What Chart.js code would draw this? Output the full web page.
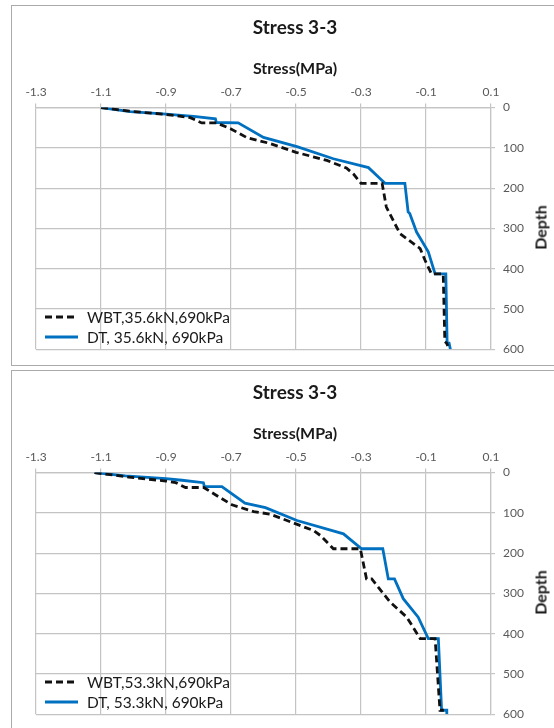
<!DOCTYPE html>
<html>
<head>
<meta charset="utf-8">
<script src="https://cdn.jsdelivr.net/npm/chart.js@4"></script>
<style>
  html, body { margin: 0; padding: 0; background: #fff; }
  body { width: 554px; height: 728px; overflow: hidden; position: relative; font-family: Lato, "Open Sans", sans-serif; }
  .frame { position: absolute; left: 11px; width: 560px; height: 359px; border: 1px solid #ababab; background: #fff; }
  .frame canvas { position: absolute; left: 0; top: 0; }
  .legend { position: absolute; left: 33px; font-size: 15.5px; color: #1a1a1a; line-height: 20px; }
  .legend div { display: flex; align-items: center; height: 20px; }
  .legend svg { margin-right: 9px; }
  .ytitle { position: absolute; width: 80px; text-align: center; font-weight: bold; font-size: 16px; color: #1a1a1a; transform: rotate(-90deg); }
</style>
</head>
<body>
<div class="frame" style="top:5px">
  <canvas id="chartTop" width="542" height="359"></canvas>
  <div class="legend" style="top:301px">
    <div><svg width="33" height="6"><line x1="0" y1="3" x2="33" y2="3" stroke="#111" stroke-width="3" stroke-dasharray="7 4"/></svg><span id="legWbtTop"></span></div>
    <div><svg width="33" height="6"><line x1="0" y1="3" x2="33" y2="3" stroke="#0070c0" stroke-width="3"/></svg><span id="legDtTop"></span></div>
  </div>
  <div class="ytitle" style="left:488px; top:212px">Depth</div>
</div>
<div class="frame" style="top:370px">
  <canvas id="chartBottom" width="542" height="359"></canvas>
  <div class="legend" style="top:301px">
    <div><svg width="33" height="6"><line x1="0" y1="3" x2="33" y2="3" stroke="#111" stroke-width="3" stroke-dasharray="7 4"/></svg><span id="legWbtBottom"></span></div>
    <div><svg width="33" height="6"><line x1="0" y1="3" x2="33" y2="3" stroke="#0070c0" stroke-width="3"/></svg><span id="legDtBottom"></span></div>
  </div>
  <div class="ytitle" style="left:488px; top:212px">Depth</div>
</div>
<script>
// Stress profiles.
const chartTitle = 'Stress 3-3';
const xTitle = 'Stress(MPa)';
const stressMin = -1.3;
const stressMax = 0.1;
const stressStep = 0.2;
const depthMin = 0;
const depthMax = 600;
const depthStep = 100;

// Top chart: 35.6kN, 690kPa
const labelsTop = ['WBT,35.6kN,690kPa', 'DT, 35.6kN, 690kPa'];
const wbtTopStress = [-1.10, -1.01, -0.90, -0.825, -0.79, -0.745, -0.70, -0.65, -0.58, -0.50, -0.405, -0.345, -0.323, -0.30, -0.235, -0.222, -0.18, -0.118, -0.103, -0.083, -0.047, -0.042, -0.036, -0.033];
const wbtTopDepth = [0, 9, 17, 25, 38, 38, 53, 75, 89, 111, 131, 150, 165, 188, 188, 247, 313, 350, 379, 413, 413, 581, 585, 592];
const dtTopStress = [-1.10, -1.01, -0.90, -0.815, -0.748, -0.745, -0.678, -0.60, -0.497, -0.385, -0.277, -0.24, -0.226, -0.165, -0.155, -0.15, -0.129, -0.093, -0.072, -0.039, -0.035, -0.029, -0.025];
const dtTopDepth = [0, 10, 16, 22, 28, 37, 38, 74, 97, 127, 149, 177, 188, 188, 259, 263, 309, 358, 413, 413, 585, 585, 600];

// Bottom chart: 53.3kN, 690kPa
const labelsBottom = ['WBT,53.3kN,690kPa', 'DT, 53.3kN, 690kPa'];
const wbtBottomStress = [-1.12, -1.015, -0.90, -0.87, -0.84, -0.784, -0.738, -0.697, -0.63, -0.58, -0.446, -0.425, -0.385, -0.302, -0.283, -0.267, -0.211, -0.159, -0.118, -0.072, -0.057, -0.045];
const wbtBottomDepth = [0, 11, 21, 25, 37, 37, 60, 80, 97, 103, 144, 156, 189, 189, 264, 264, 321, 359, 412, 412, 590, 590];
const dtBottomStress = [-1.12, -1.025, -0.90, -0.851, -0.785, -0.782, -0.728, -0.657, -0.594, -0.497, -0.354, -0.298, -0.233, -0.216, -0.197, -0.17, -0.124, -0.093, -0.062, -0.052, -0.036, -0.036];
const dtBottomDepth = [0, 8, 15, 19, 25, 35, 35, 76, 87, 119, 152, 189, 189, 264, 264, 313, 359, 412, 412, 590, 590, 600];

const toPoints = (xs, ys) => xs.map((x, i) => ({ x, y: ys[i] }));

const gridColor = '#c4c4c4';
const tickColor = '#595959';

const makeChart = (canvasId, labels, wbtX, wbtY, dtX, dtY) => {
  const canvas = document.getElementById(canvasId);
  return new Chart(canvas, {
    type: 'scatter',
    data: {
      datasets: [
        {
          label: labels[0],
          data: toPoints(wbtX, wbtY),
          showLine: true,
          borderColor: '#111111',
          borderWidth: 2.8,
          borderDash: [7, 4],
          pointRadius: 0,
          tension: 0
        },
        {
          label: labels[1],
          data: toPoints(dtX, dtY),
          showLine: true,
          borderColor: '#0070c0',
          borderWidth: 2.8,
          pointRadius: 0,
          tension: 0
        }
      ]
    },
    options: {
      responsive: false,
      animation: false,
      layout: { padding: { left: 24, right: 0, top: 0, bottom: 15.7 } },
      scales: {
        x: {
          type: 'linear',
          position: 'top',
          min: stressMin,
          max: stressMax,
          ticks: {
            stepSize: stressStep,
            color: tickColor,
            font: { family: 'Lato', size: 12 },
            padding: 3.8,
            maxRotation: 0,
            callback: (v) => v.toFixed(1)
          },
          grid: { color: gridColor, lineWidth: 1.2, tickLength: 4 },
          border: { color: gridColor, width: 1.2 },
          afterFit: (scale) => { scale.height = 29.6; }
        },
        y: {
          type: 'linear',
          position: 'right',
          reverse: true,
          min: depthMin,
          max: depthMax,
          ticks: {
            stepSize: depthStep,
            color: tickColor,
            font: { family: 'Lato', size: 12 },
            padding: 8
          },
          grid: { color: gridColor, lineWidth: 1.2, tickLength: 4 },
          border: { color: gridColor, width: 1.2 },
          afterFit: (scale) => { scale.width = 63; }
        }
      },
      plugins: {
        legend: { display: false },
        tooltip: { enabled: false },
        title: {
          display: true,
          text: chartTitle,
          color: '#1a1a1a',
          font: { family: 'Lato', size: 19, weight: 'bold' },
          padding: { top: 10, bottom: 0 }
        },
        subtitle: {
          display: true,
          text: xTitle,
          color: '#1a1a1a',
          font: { family: 'Lato', size: 16, weight: 'bold' },
          padding: { top: 20, bottom: 0 }
        }
      }
    }
  });
};

document.getElementById('legWbtTop').textContent = labelsTop[0];
document.getElementById('legDtTop').textContent = labelsTop[1];
document.getElementById('legWbtBottom').textContent = labelsBottom[0];
document.getElementById('legDtBottom').textContent = labelsBottom[1];

makeChart('chartTop', labelsTop, wbtTopStress, wbtTopDepth, dtTopStress, dtTopDepth);
makeChart('chartBottom', labelsBottom, wbtBottomStress, wbtBottomDepth, dtBottomStress, dtBottomDepth);
</script>
</body>
</html>
